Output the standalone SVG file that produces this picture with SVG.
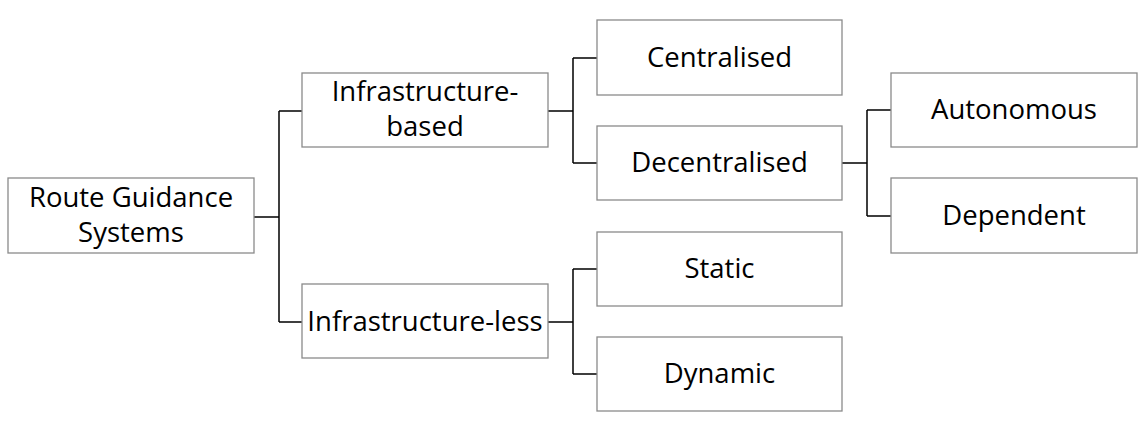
<svg xmlns="http://www.w3.org/2000/svg" width="1145" height="425" viewBox="0 0 1145 425">
<style>
.box{fill:#fff;stroke:#8a8a8a;stroke-width:1.3}
.lbl{font-family:"Open Sans","Liberation Sans",sans-serif;font-size:27.5px;fill:#000;text-anchor:middle}
.con{fill:none;stroke:#000;stroke-width:1.5}
</style>
<rect width="1145" height="425" fill="#fff"/>
<g id="connectors">
<path class="con" d="M254,217H279M279,111V322M279,111H302M279,322H302"/>
<path class="con" d="M548,111H573M573,58V163M573,58H597M573,163H597"/>
<path class="con" d="M548,322H573M573,269V374M573,269H597M573,374H597"/>
<path class="con" d="M842,163H867M867,110V216M867,110H891M867,216H891"/>
</g>
<g id="root"><rect class="box" x="8" y="178" width="246" height="75"/><text class="lbl"><tspan x="131" y="207">Route Guidance</tspan><tspan x="131" y="242">Systems</tspan></text></g>
<g id="infra-based"><rect class="box" x="302" y="73" width="246" height="74"/><text class="lbl"><tspan x="425" y="101">Infrastructure-</tspan><tspan x="425" y="136">based</tspan></text></g>
<g id="infra-less"><rect class="box" x="302" y="284" width="246" height="74"/><text class="lbl" x="425" y="331">Infrastructure-less</text></g>
<g id="centralised"><rect class="box" x="597" y="20" width="245" height="75"/><text class="lbl" x="719.5" y="67">Centralised</text></g>
<g id="decentralised"><rect class="box" x="597" y="126" width="245" height="74"/><text class="lbl" x="719.5" y="172">Decentralised</text></g>
<g id="static"><rect class="box" x="597" y="232" width="245" height="74"/><text class="lbl" x="719.5" y="278">Static</text></g>
<g id="dynamic"><rect class="box" x="597" y="337" width="245" height="74"/><text class="lbl" x="719.5" y="383">Dynamic</text></g>
<g id="autonomous"><rect class="box" x="891" y="73" width="246" height="74"/><text class="lbl" x="1014" y="119">Autonomous</text></g>
<g id="dependent"><rect class="box" x="891" y="178" width="246" height="75"/><text class="lbl" x="1014" y="225">Dependent</text></g>
</svg>
